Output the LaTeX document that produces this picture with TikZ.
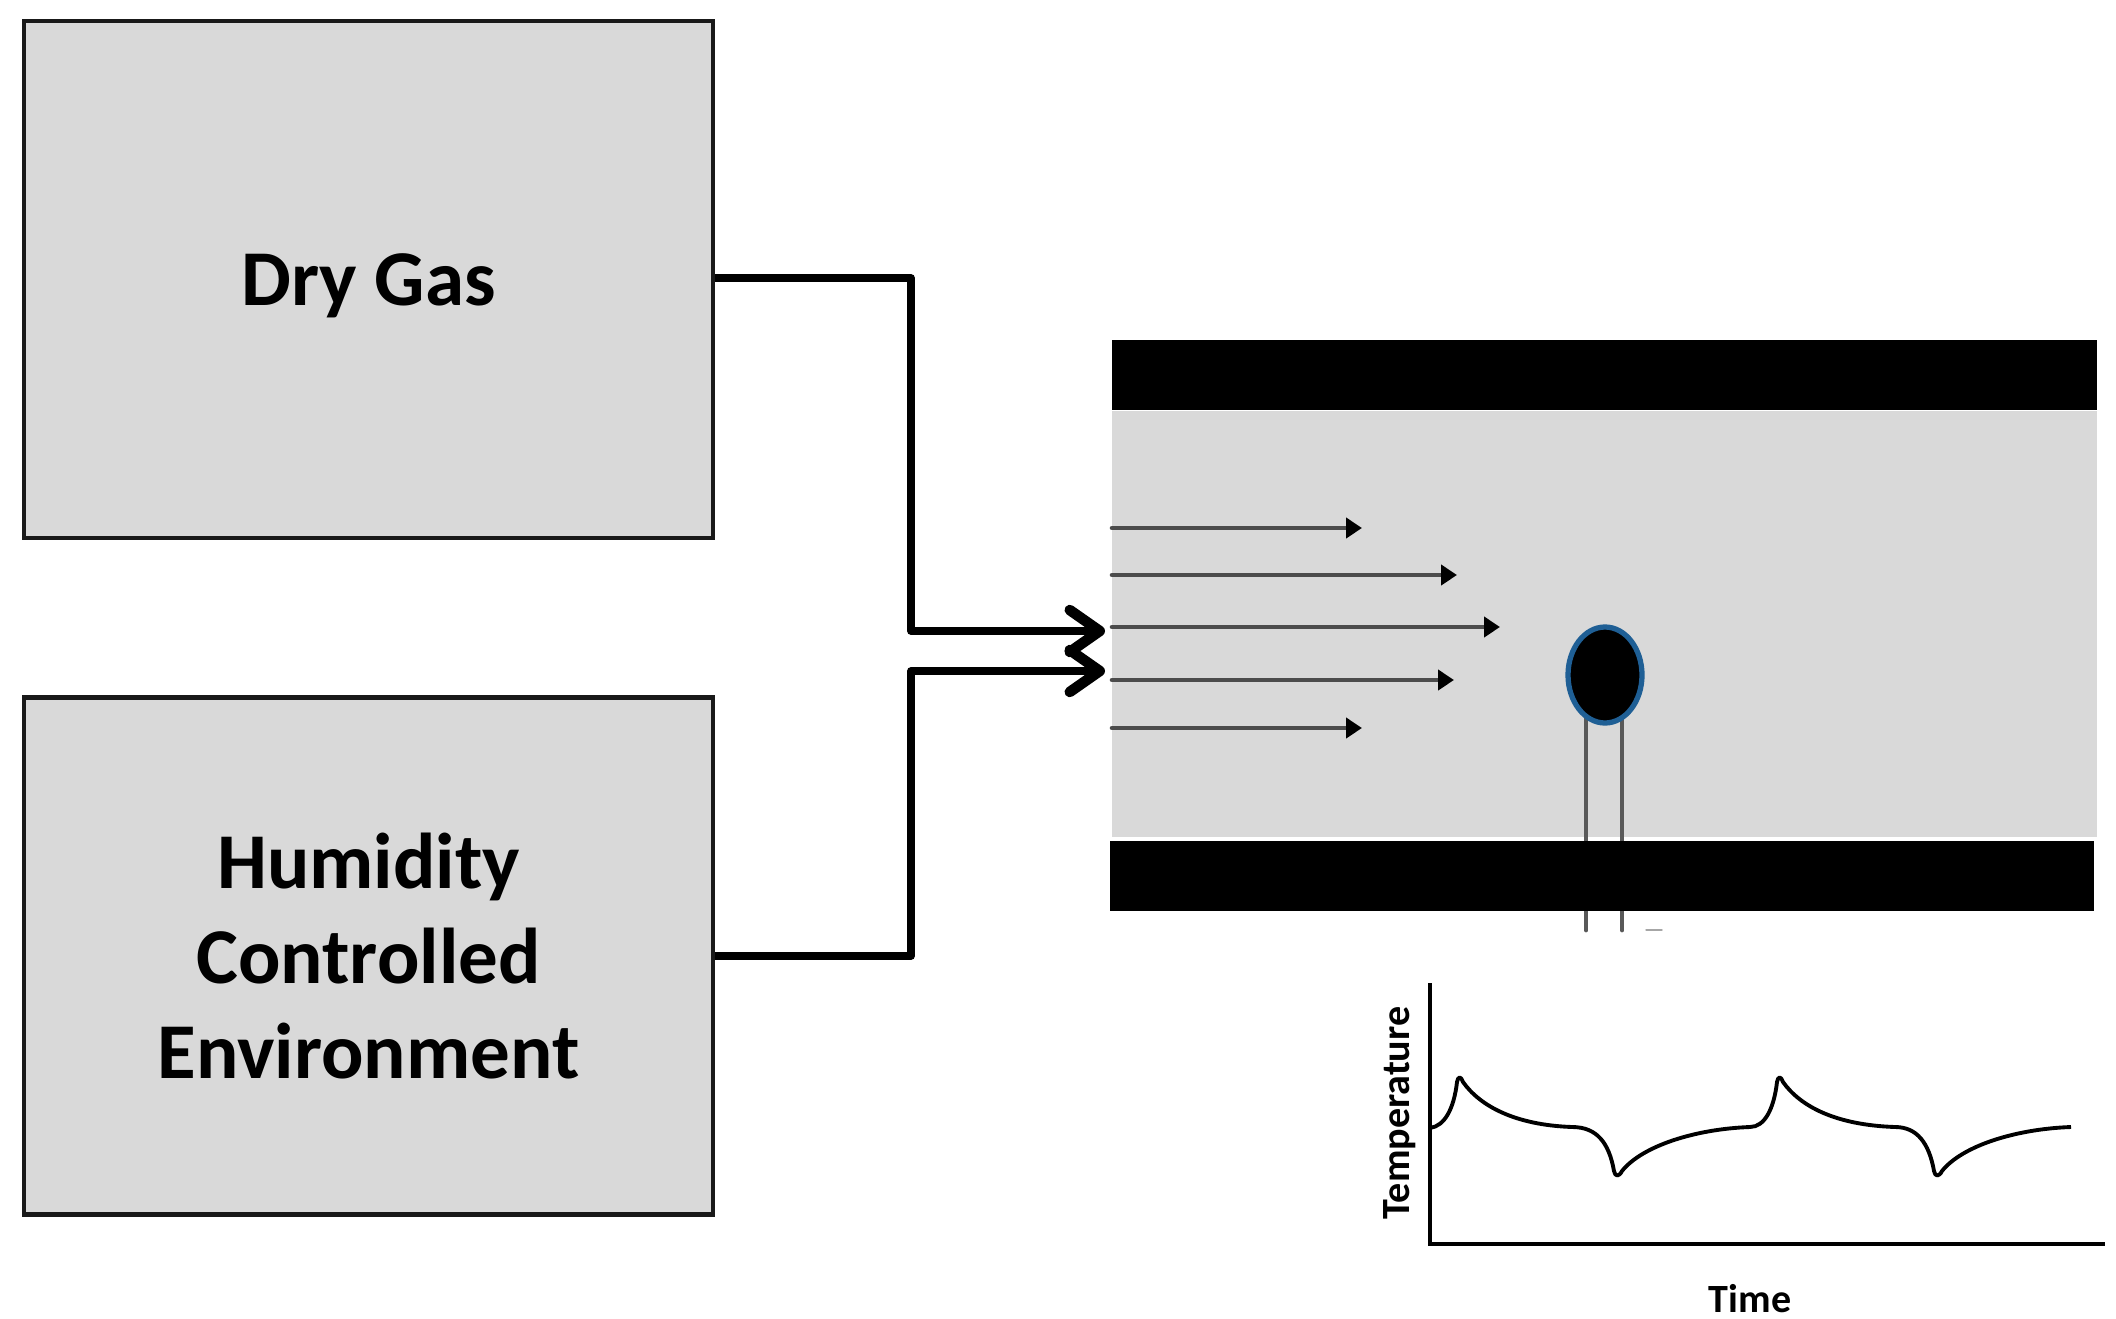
\documentclass[tikz,border=0pt]{standalone}
\usepackage{fontspec}
\usepackage{pgf,tikz}
\usepackage{tkz-euclide}
\usepackage{xcolor}
\usetikzlibrary{arrows, arrows.meta, calc, shapes.geometric}
\setmainfont{Carlito}
\definecolor{boxgray}{HTML}{D9D9D9}
\definecolor{rimblue}{HTML}{1F5F95}
\tikzset{
    gasbox/.style={draw=black!90, line width=1.4pt, fill=boxgray, minimum width=6.89cm, minimum height=5.17cm, inner sep=0pt, align=center, font=\fontsize{22.5}{27}\selectfont\bfseries},
    plate/.style={fill=black, minimum height=0.7cm, inner sep=0pt},
    pipe/.style={line width=2.2pt, line join=round, -{Straight Barb[length=0.3cm, width=0.42cm, line width=3pt, round]}},
    flow/.style={line width=1.3pt, draw=black!70, -{Triangle[length=0.16cm, width=0.2cm, black]}},
    lead/.style={line width=1.4pt, draw=black!65},
    axisline/.style={line width=1.3pt},
    trace/.style={line width=1.1pt, line join=round},
    axislabel/.style={font=\fontsize{11.4}{14}\selectfont\bfseries}
}
\begin{document}
\begin{tikzpicture}
        \useasboundingbox (0,0) rectangle (21.16,13.18);

        \node[gasbox, text depth=0pt] (drygas) at (3.685,10.385) {Dry Gas};
        \node[gasbox] (humid) at (3.685,3.62) {Humidity\\Controlled\\Environment};

        \node[fill=boxgray, minimum width=9.85cm, minimum height=4.26cm, inner sep=0pt] (channel) at (16.045,6.94) {};
        \node[plate, minimum width=9.85cm] (topplate) at (16.045,9.43) {};

        \tkzDefPoint(9.11,10.40){P_1}
        \tkzDefPoint(9.11,6.87){P_2}
        \tkzDefPoint(11.05,6.87){P_3}
        \tkzDefPoint(9.11,3.62){Q_1}
        \tkzDefPoint(9.11,6.47){Q_2}
        \tkzDefPoint(11.05,6.47){Q_3}

        \draw[pipe] (drygas.east |- P_1) -- (P_1) -- (P_2) -- (P_3);
        \draw[pipe] (humid.east) -- (Q_1) -- (Q_2) -- (Q_3);

        \tkzDefPoint(11.12,7.90){A_1}
        \tkzDefPoint(11.12,7.43){A_2}
        \tkzDefPoint(11.12,6.91){A_3}
        \tkzDefPoint(11.12,6.38){A_4}
        \tkzDefPoint(11.12,5.90){A_5}
        \tkzDefPoint(13.62,7.90){F_1}
        \tkzDefPoint(14.57,7.43){F_2}
        \tkzDefPoint(15.00,6.91){F_3}
        \tkzDefPoint(14.54,6.38){F_4}
        \tkzDefPoint(13.62,5.90){F_5}

        \tkzDrawSegments[flow](A_1,F_1 A_2,F_2 A_3,F_3 A_4,F_4 A_5,F_5)

        \tkzDefPoint(15.86,6.30){L_1}
        \tkzDefPoint(16.22,6.30){L_2}
        \tkzDefPoint(15.86,3.88){M_1}
        \tkzDefPoint(16.22,3.88){M_2}
        \tkzDrawSegments[lead](L_1,M_1 L_2,M_2)

        \tkzDefPoint(16.46,3.88){S_1}
        \tkzDefPoint(16.62,3.88){S_2}
        \tkzDrawSegments[line width=0.4pt, draw=black!35](S_1,S_2)

        \node[plate, minimum width=9.84cm] (botplate) at (16.02,4.425) {};
        \node[ellipse, draw=rimblue, line width=1.5pt, fill=black, minimum width=0.74cm, minimum height=0.96cm, inner sep=0pt] (sensor) at (16.05,6.43) {};

        \tkzDefPoint(14.30,3.35){Y_1}
        \tkzDefPoint(14.30,0.74){O_1}
        \tkzDefPoint(21.05,0.74){X_1}
        \draw[axisline] (Y_1) -- (O_1) -- (X_1);

        \draw[trace] (14.30,1.90) .. controls (14.45,1.92) and (14.54,2.10) .. (14.57,2.36)
            .. controls (14.58,2.42) and (14.61,2.42) .. (14.63,2.36)
            .. controls (14.80,2.12) and (15.15,1.93) .. (15.72,1.91)
            .. controls (15.97,1.91) and (16.09,1.75) .. (16.14,1.47)
            .. controls (16.15,1.41) and (16.19,1.41) .. (16.22,1.47)
            .. controls (16.42,1.72) and (16.95,1.89) .. (17.50,1.91)
            .. controls (17.65,1.91) and (17.74,2.10) .. (17.77,2.36)
            .. controls (17.78,2.42) and (17.81,2.42) .. (17.83,2.36)
            .. controls (18.00,2.12) and (18.35,1.93) .. (18.95,1.91)
            .. controls (19.17,1.91) and (19.29,1.75) .. (19.34,1.47)
            .. controls (19.35,1.41) and (19.39,1.41) .. (19.42,1.47)
            .. controls (19.62,1.72) and (20.15,1.89) .. (20.71,1.91);

        \node[axislabel] (timelabel) at (17.50,0.19) {Time};
        \node[axislabel, rotate=90] (templabel) at (14.00,2.05) {Temperature};
\end{tikzpicture}
\end{document}
